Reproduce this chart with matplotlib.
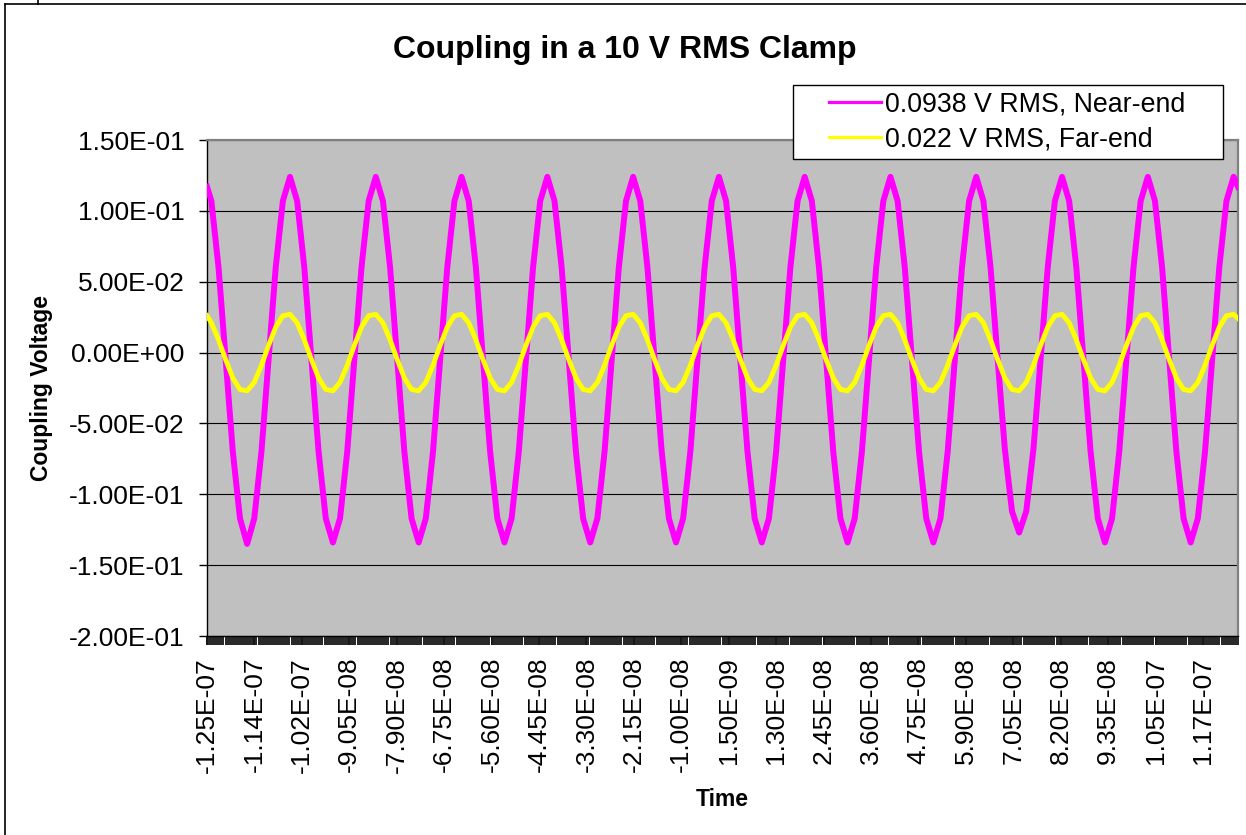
import matplotlib.pyplot as plt
from matplotlib.ticker import MultipleLocator
from matplotlib.patches import Rectangle
from matplotlib.lines import Line2D

plt.rcParams['font.family'] = ['Liberation Sans', 'DejaVu Sans']

# --- data (time in ns, one row per cycle) ---
time_ns = [
    -125.00, -123.94, -122.20, -120.47, -118.74, -117.00, -115.27, -113.54, -111.80, -110.07, -108.34, -106.60,
    -104.87, -103.14, -101.40, -99.67, -97.94, -96.20, -94.47, -92.74, -91.00, -89.27, -87.54, -85.80,
    -84.07, -82.34, -80.60, -78.87, -77.14, -75.40, -73.67, -71.94, -70.20, -68.47, -66.74, -65.00,
    -63.27, -61.54, -59.80, -58.07, -56.34, -54.60, -52.87, -51.14, -49.40, -47.67, -45.94, -44.20,
    -42.47, -40.74, -39.00, -37.27, -35.54, -33.80, -32.07, -30.34, -28.60, -26.87, -25.14, -23.40,
    -21.67, -19.94, -18.20, -16.47, -14.74, -13.00, -11.27, -9.54, -7.80, -6.07, -4.34, -2.60,
    -0.87, 0.86, 2.60, 4.33, 6.06, 7.80, 9.53, 11.26, 13.00, 14.73, 16.46, 18.20,
    19.93, 21.66, 23.40, 25.13, 26.86, 28.60, 30.33, 32.06, 33.80, 35.53, 37.26, 39.00,
    40.73, 42.46, 44.20, 45.93, 47.66, 49.40, 51.13, 52.86, 54.60, 56.33, 58.06, 59.80,
    61.53, 63.26, 65.00, 66.73, 68.46, 70.20, 71.93, 73.66, 75.40, 77.13, 78.86, 80.60,
    82.33, 84.06, 85.80, 87.53, 89.26, 91.00, 92.73, 94.46, 96.20, 97.93, 99.66, 101.40,
    103.13, 104.86, 106.60, 108.33, 110.06, 111.80, 113.53, 115.26, 117.00, 118.73, 120.46, 122.20,
    123.93, 125.00,
]

near_end = [
    0.117, 0.107, 0.060, -0.005, -0.070, -0.117, -0.135, -0.117, -0.070, -0.005, 0.060, 0.107,
    0.124, 0.107, 0.060, -0.005, -0.070, -0.117, -0.134, -0.117, -0.070, -0.005, 0.060, 0.107,
    0.124, 0.107, 0.060, -0.005, -0.070, -0.117, -0.134, -0.117, -0.070, -0.005, 0.060, 0.107,
    0.124, 0.107, 0.060, -0.005, -0.070, -0.117, -0.134, -0.117, -0.070, -0.005, 0.060, 0.107,
    0.124, 0.107, 0.060, -0.005, -0.070, -0.117, -0.134, -0.117, -0.070, -0.005, 0.060, 0.107,
    0.124, 0.107, 0.060, -0.005, -0.070, -0.117, -0.134, -0.117, -0.070, -0.005, 0.060, 0.107,
    0.124, 0.107, 0.060, -0.005, -0.070, -0.117, -0.134, -0.117, -0.070, -0.005, 0.060, 0.107,
    0.124, 0.107, 0.060, -0.005, -0.070, -0.117, -0.134, -0.117, -0.070, -0.005, 0.060, 0.107,
    0.124, 0.107, 0.060, -0.005, -0.070, -0.117, -0.134, -0.117, -0.070, -0.005, 0.060, 0.107,
    0.124, 0.107, 0.060, -0.005, -0.068, -0.112, -0.127, -0.112, -0.068, -0.005, 0.060, 0.107,
    0.124, 0.107, 0.060, -0.005, -0.070, -0.117, -0.134, -0.117, -0.070, -0.005, 0.060, 0.107,
    0.124, 0.107, 0.060, -0.005, -0.070, -0.117, -0.134, -0.117, -0.070, -0.005, 0.060, 0.107,
    0.124, 0.117,
]

far_end = [
    0.026, 0.021, 0.009, -0.005, -0.018, -0.026, -0.027, -0.021, -0.009, 0.005, 0.018, 0.026,
    0.027, 0.021, 0.009, -0.005, -0.018, -0.026, -0.027, -0.021, -0.009, 0.005, 0.018, 0.026,
    0.027, 0.021, 0.009, -0.005, -0.018, -0.026, -0.027, -0.021, -0.009, 0.005, 0.018, 0.026,
    0.027, 0.021, 0.009, -0.005, -0.018, -0.026, -0.027, -0.021, -0.009, 0.005, 0.018, 0.026,
    0.027, 0.021, 0.009, -0.005, -0.018, -0.026, -0.027, -0.021, -0.009, 0.005, 0.018, 0.026,
    0.027, 0.021, 0.009, -0.005, -0.018, -0.026, -0.027, -0.021, -0.009, 0.005, 0.018, 0.026,
    0.027, 0.021, 0.009, -0.005, -0.018, -0.026, -0.027, -0.021, -0.009, 0.005, 0.018, 0.026,
    0.027, 0.021, 0.009, -0.005, -0.018, -0.026, -0.027, -0.021, -0.009, 0.005, 0.018, 0.026,
    0.027, 0.021, 0.009, -0.005, -0.018, -0.026, -0.027, -0.021, -0.009, 0.005, 0.018, 0.026,
    0.027, 0.021, 0.009, -0.005, -0.018, -0.026, -0.027, -0.021, -0.009, 0.005, 0.018, 0.026,
    0.027, 0.021, 0.009, -0.005, -0.018, -0.026, -0.027, -0.021, -0.009, 0.005, 0.018, 0.026,
    0.027, 0.021, 0.009, -0.005, -0.018, -0.026, -0.027, -0.021, -0.009, 0.005, 0.018, 0.026,
    0.027, 0.024,
]

series_names = ['0.0938 V RMS, Near-end', '0.022 V RMS, Far-end']

ytick_vals = [-0.20, -0.15, -0.10, -0.05, 0.0, 0.05, 0.10, 0.15]
ytick_labels = ['-2.00E-01', '-1.50E-01', '-1.00E-01', '-5.00E-02', '0.00E+00',
                '5.00E-02', '1.00E-01', '1.50E-01']

xtick_ns = [-125, -113.5, -102, -90.5, -79, -67.5, -56, -44.5, -33, -21.5, -10,
            1.5, 13, 24.5, 36, 47.5, 59, 70.5, 82, 93.5, 105, 116.5]
xtick_labels = ['-1.25E-07', '-1.14E-07', '-1.02E-07', '-9.05E-08', '-7.90E-08', '-6.75E-08',
                '-5.60E-08', '-4.45E-08', '-3.30E-08', '-2.15E-08', '-1.00E-08', '1.50E-09',
                '1.30E-08', '2.45E-08', '3.60E-08', '4.75E-08', '5.90E-08', '7.05E-08',
                '8.20E-08', '9.35E-08', '1.05E-07', '1.17E-07']

MAGENTA = '#ff00ff'
YELLOW = '#ffff00'

# --- figure ---
W, H = 1246, 835
fig = plt.figure(figsize=(W / 100, H / 100), dpi=100)
fig.patch.set_facecolor('white')

ax = fig.add_axes([207 / W, 1 - 636 / H, (1238 - 207) / W, (636 - 140) / H])
ax.set_facecolor('#c0c0c0')

ax.plot(time_ns, near_end, color=MAGENTA, lw=4.3, zorder=3)
ax.plot(time_ns, far_end, color=YELLOW, lw=3.5, zorder=4)

ax.set_xlim(-125, 125)
ax.set_ylim(-0.2, 0.15)

ax.set_yticks(ytick_vals, ytick_labels)
ax.set_xticks(xtick_ns, xtick_labels, rotation=90)
ax.xaxis.set_minor_locator(MultipleLocator(0.5))

ax.grid(axis='y', color='black', lw=0.8)
ax.set_axisbelow(True)

ax.tick_params(axis='y', direction='out', length=6, width=1, pad=10, labelsize=19)
ax.tick_params(axis='x', which='major', direction='out', length=6.5, width=1.3, pad=8.5, labelsize=19)
ax.tick_params(axis='x', which='minor', direction='out', length=6.5, width=1.2)

for side in ['top', 'right']:
    ax.spines[side].set_color('#808080')
    ax.spines[side].set_linewidth(1.6)
for side in ['left', 'bottom']:
    ax.spines[side].set_color('black')
    ax.spines[side].set_linewidth(1.0)

# titles
fig.text(625 / W, 1 - 50 / H, 'Coupling in a 10 V RMS Clamp', fontsize=23,
         fontweight='bold', ha='center', va='center')
fig.text(42 / W, 1 - 388 / H, 'Coupling Voltage', fontsize=16.5, fontweight='bold',
         rotation=90, ha='center', va='center')
fig.text(722 / W, 1 - 800 / H, 'Time', fontsize=16.5, fontweight='bold',
         ha='center', va='center')

# legend: white box with black frame, then the entries on top
fig.add_artist(Rectangle((793 / W, 1 - 159 / H), (1223 - 793) / W, (159 - 85) / H,
                         transform=fig.transFigure, facecolor='white',
                         edgecolor='black', lw=1.0, zorder=4))
handles = [Line2D([], [], color=MAGENTA, lw=2.3), Line2D([], [], color=YELLOW, lw=2.3)]
leg = fig.legend(handles, series_names, loc='center left',
                 bbox_to_anchor=(829 / W, 1 - 122 / H), frameon=False,
                 fontsize=19.3, handlelength=1.95, handletextpad=0.15,
                 labelspacing=0.33, borderpad=0, borderaxespad=0)
leg.set_zorder(5)

# outer chart-area border
fig.add_artist(Line2D([5 / W, 5 / W], [0, 1 - 4 / H], color='black', lw=1.2,
                      transform=fig.transFigure))
fig.add_artist(Line2D([5 / W, 1], [1 - 4 / H, 1 - 4 / H], color='black', lw=1.2,
                      transform=fig.transFigure))
fig.add_artist(Line2D([38 / W, 38 / W], [1 - 4 / H, 1], color='black', lw=1.2,
                      transform=fig.transFigure))

fig.savefig('out.png', dpi=100)
